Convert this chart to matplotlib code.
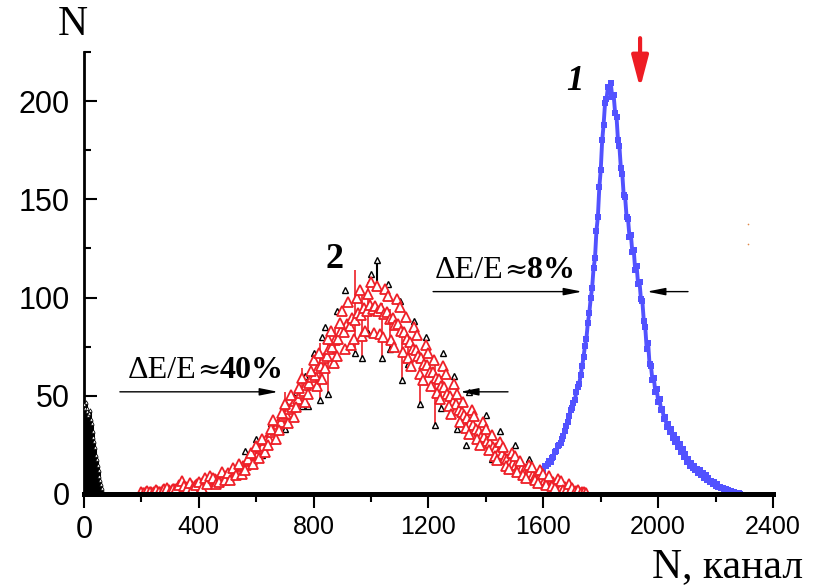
import numpy as np
import matplotlib
matplotlib.use("Agg")
import matplotlib.pyplot as plt
from matplotlib.ticker import MultipleLocator

# ---------------- data ----------------
# black spike near channel 0
spike_ch = [0, 3, 6, 9, 12, 15, 18, 21, 24, 27, 30, 33, 36, 39, 42, 45, 48, 51, 54, 57, 60, 63, 66]
spike_v = [46, 44, 47, 42, 44, 40, 41, 43, 38, 36, 32, 29, 27, 24, 20, 18, 15, 12, 9, 7, 5, 3, 1]

# spectrum 2 (red), channels 200..1750 step 10
red_ch = list(range(200, 1760, 10))
red_v = [0.8, 0.3, 1.3, 1.0, 0.6, 2.0, 1.1, 0.4, 2.5, 3.2,
         1.0, 2.7, 2.3, 4.5, 6.8, 4.1, 2.6, 5.5, 3.0, 4.6,
         6.0, 3.2, 7.9, 5.0, 9.2, 8.0, 5.2, 6.1, 11.0, 7.0,
         10.8, 6.9, 13.2, 9.5, 15.5, 10.2, 12.0, 17.9, 20.8, 15.4,
         24.5, 18.5, 28.0, 21.5, 25.0, 33.0, 37.5, 28.2, 32.5, 41.0,
         46.0, 36.0, 50.5, 39.0, 44.5, 54.0, 59.0, 47.0, 51.0, 62.5,
         68.0, 55.0, 72.0, 58.5, 64.0, 79.0, 83.0, 66.5, 70.0, 87.0,
         93.0, 74.0, 97.5, 76.0, 79.0, 100.0, 104.0, 80.5, 83.0, 102.0,
         108.0, 82.0, 106.0, 81.5, 80.0, 104.5, 101.0, 78.5, 75.0, 99.0,
         95.0, 72.5, 90.0, 69.0, 65.0, 85.0, 81.0, 61.0, 58.0, 76.0,
         72.0, 55.0, 68.0, 51.5, 48.5, 65.0, 61.0, 45.0, 40.5, 56.0,
         51.0, 36.5, 47.0, 33.5, 30.5, 43.0, 39.5, 28.0, 25.0, 36.5,
         33.0, 22.5, 30.0, 19.5, 17.5, 26.5, 24.0, 14.5, 12.5, 21.0,
         19.5, 11.0, 17.0, 9.5, 8.0, 15.0, 13.5, 7.0, 5.5, 12.0,
         10.0, 4.5, 9.0, 4.0, 3.0, 7.5, 6.5, 2.0, 1.5, 5.0,
         3.0, 0.8, 2.0, 0.5, 1.0, 0.3]

# spectrum 2 (red), in-between channels 205..1745 step 10
red_ch_b = list(range(205, 1750, 10))
red_v_b = [0.5, 0.9, 0.7, 1.2, 0.9, 1.5, 1.2, 1.8, 1.6, 2.2,
           2.0, 2.6, 2.3, 3.0, 2.7, 3.5, 3.3, 4.2, 4.0, 4.9,
           5.0, 5.9, 5.6, 6.7, 6.4, 7.5, 7.2, 8.4, 8.0, 9.2,
           9.0, 10.6, 10.5, 12.2, 11.8, 14.0, 14.8, 16.8, 17.5, 19.8,
           20.5, 23.5, 24.5, 27.5, 28.0, 31.5, 32.5, 35.5, 36.5, 39.5,
           40.5, 43.5, 44.5, 47.5, 48.5, 51.5, 52.5, 55.5, 56.5, 59.5,
           60.5, 64.0, 65.0, 69.0, 70.0, 74.0, 75.0, 78.5, 79.0, 83.0,
           82.5, 86.5, 85.5, 89.5, 88.5, 92.0, 91.0, 94.5, 93.0, 96.0,
           94.0, 95.5, 93.0, 94.5, 91.5, 92.5, 89.0, 89.5, 86.0, 86.5,
           83.0, 82.5, 79.0, 77.5, 74.0, 73.5, 70.0, 69.0, 66.0, 65.5,
           62.0, 62.0, 59.0, 58.5, 55.0, 54.5, 51.0, 50.0, 47.0, 46.0,
           43.0, 41.5, 40.0, 38.5, 36.0, 35.0, 33.0, 32.0, 30.0, 29.0,
           27.0, 26.0, 24.0, 23.5, 21.5, 20.5, 18.5, 18.0, 16.5, 16.0,
           15.0, 14.5, 13.0, 12.5, 11.0, 11.0, 9.5, 9.5, 8.0, 8.0,
           7.0, 7.0, 6.0, 6.0, 5.0, 4.8, 4.0, 3.6, 3.0, 2.6,
           2.0, 1.6, 1.2, 0.9, 0.5]

# long error bars on spectrum 2 (channel, top, bottom)
err_ch = [700, 760, 822, 850, 874, 944, 968, 990, 1038, 1066, 1107, 1129, 1170, 1222, 1245]
err_top = [52, 64, 77, 82, 85, 114, 102, 108, 97, 94, 82, 81, 64, 67, 60]
err_bot = [33, 45, 48, 51, 66, 72, 69, 82, 69, 74, 58, 66, 46, 35, 44]
blk_err_ch = [1021]
blk_err_top = [119]
blk_err_bot = [107]

# black triangles peeking out of the red band
blk_ch = [560, 600, 620, 650, 700, 740, 770, 780, 800, 830, 840, 880, 910, 1000, 1060,
          1100, 1150, 1190, 1250, 1290, 1300, 1330, 1340, 1400, 1420, 1450, 1480, 1500, 1550, 1560]
blk_v = [22, 28, 20, 36, 47, 52, 60, 45, 72, 80, 85, 93, 104, 112, 107,
         98, 88, 80, 72, 60, 33, 25, 52, 40, 18, 32, 12, 25, 18, 8]

# spectrum 1 (blue), channels 1590..2285 step 5
blue_ch = list(range(1590, 2290, 5))
blue_v = [11, 12.5, 12, 14.5, 14, 15.5, 17, 16.5, 18.5, 19,
          21.5, 22, 24.5, 25, 26, 28, 29.5, 32, 34.5, 36.5,
          39.5, 42.5, 44, 46.5, 48, 52, 54.5, 56, 60.5, 65,
          69.5, 75.5, 79, 87, 92, 99.5, 105, 115, 120, 134,
          141, 156, 165, 180, 188, 199, 201, 207, 205, 209,
          202, 203, 194, 192, 180, 177, 166, 163, 152, 151,
          141, 140, 131, 132, 123, 124, 114, 116, 107, 108,
          99, 98, 88, 85, 74, 77, 66, 65, 58, 59,
          52, 53.5, 47, 48.5, 42.5, 43.5, 38, 39, 34, 35.5,
          31.5, 33, 28.5, 30, 26.5, 28, 24, 25.5, 21.5, 23,
          19, 20.5, 16.5, 18, 14.5, 16, 13, 14.5, 12, 12.5,
          10.5, 12, 9.5, 10.5, 8, 9.5, 7, 8, 6, 6.5,
          5, 6, 4, 5, 3.5, 3.8, 2.8, 3, 2.2, 2.5,
          1.6, 1.9, 1.2, 1.4, 0.9, 1.0, 0.6, 0.7, 0.4, 0.2]

xticks = [0, 400, 800, 1200, 1600, 2000, 2400]
yticks = [0, 50, 100, 150, 200]

RED = "#ee2028"
BLUE = "#5252ff"
SERIF = "Liberation Serif"
SANS = "Liberation Sans"

# ---------------- figure ----------------
fig = plt.figure(figsize=(8.19, 5.85), dpi=100)
ax = fig.add_axes([0.10256, 0.15556, 0.84127, 0.75573])

# black spike
ax.vlines(spike_ch, 0, spike_v, color="black", lw=2.2, zorder=3)
ax.plot(spike_ch, spike_v, ls="none", marker="^", ms=2.5, mfc="white", mec="black", mew=0.5, zorder=3)

# blue spectrum 1
ax.plot(blue_ch, blue_v, "-s", color=BLUE, ms=4.8, mew=0, lw=2.8, zorder=2)

# black triangles under red
ax.plot(blk_ch, blk_v, ls="none", marker="^", ms=4.5, mfc="white", mec="black", mew=1.0, zorder=3)
ax.vlines(blk_err_ch, blk_err_bot, blk_err_top, color="black", lw=1.5, zorder=3)
ax.plot(blk_err_ch, blk_err_top, ls="none", marker="^", ms=5, mfc="white", mec="black", mew=1.0, zorder=5)

# red spectrum 2
ax.vlines(err_ch, err_bot, err_top, color=RED, lw=1.2, zorder=4)
ax.plot(err_ch, err_bot, ls="none", marker="^", ms=4.5, mfc="white", mec="black", mew=1.0, zorder=4)
ax.plot(red_ch_b, red_v_b, ls="none", marker="^", ms=6.5, mfc="white", mec=RED, mew=1.3, zorder=4)
ax.plot(red_ch, red_v, ls="none", marker="^", ms=6.5, mfc="white", mec=RED, mew=1.3, zorder=4)

# tiny orange specks
ax.plot([2313, 2313], [137.4, 127.2], ls="none", marker="o", ms=1.2, color="#e08a4a", mew=0, clip_on=False)

# axes styling
ax.set_xlim(0, 2400)
ax.set_ylim(0, 225)
ax.spines["top"].set_visible(False)
ax.spines["right"].set_visible(False)
ax.spines["left"].set_linewidth(2.0)
ax.spines["bottom"].set_linewidth(3.6)
ax.spines["bottom"].set_zorder(6)
ax.set_xticks(xticks)
ax.set_yticks(yticks)
ax.xaxis.set_minor_locator(MultipleLocator(200))
ax.yaxis.set_minor_locator(MultipleLocator(25))
ax.tick_params(axis="x", which="major", direction="out", length=10, width=1.5, pad=5)
ax.tick_params(axis="x", which="minor", direction="out", length=6, width=1.5)
ax.tick_params(axis="y", which="major", direction="in", length=9, width=1.5, pad=10)
ax.tick_params(axis="y", which="minor", direction="in", length=5, width=1.5)
ax.set_xticklabels([str(t) for t in xticks], fontfamily=SANS, fontsize=18)
ax.set_yticklabels([str(t) for t in yticks], fontfamily=SANS, fontsize=22)
ax.get_xticklabels()[0].set_fontsize(22)

# axis labels
fig.text(73 / 819, 1 - 25 / 585, "N", fontfamily=SERIF, fontsize=30, ha="center", va="center")
fig.text(652 / 819, 1 - 577 / 585, "N, канал", fontfamily=SERIF, fontsize=30, ha="left", va="baseline")

# peak numbers
ax.text(1711, 210, "1", fontfamily=SERIF, fontsize=25, fontweight="bold", fontstyle="italic",
        ha="center", va="center")
ax.text(874, 119.5, "2", fontfamily=SERIF, fontsize=26, fontweight="bold", ha="center", va="center")


def chain(x, y, parts):
    renderer = fig.canvas.get_renderer()
    for s, kw in parts:
        t = ax.text(x, y, s, ha="left", va="baseline", **kw)
        bb = t.get_window_extent(renderer)
        x = ax.transData.inverted().transform((bb.x1, 0))[0]


# resolution labels
chain(153, 59, [("ΔE/E", dict(fontfamily=SERIF, fontsize=23)),
                ("≈", dict(fontfamily="DejaVu Serif", fontsize=20)),
                ("40%", dict(fontfamily=SERIF, fontsize=23, fontweight="bold"))])
chain(1223, 110, [("ΔE/E", dict(fontfamily=SERIF, fontsize=23)),
                  ("≈", dict(fontfamily="DejaVu Serif", fontsize=20)),
                  ("8%", dict(fontfamily=SERIF, fontsize=23, fontweight="bold"))])

# half-width arrows
arr = dict(arrowstyle="-|>,head_length=1.1,head_width=0.22", color="black", lw=1.0,
           shrinkA=0, shrinkB=0, mutation_scale=10)
ax.annotate("", xy=(676, 52), xytext=(125, 52), arrowprops=arr)
ax.annotate("", xy=(1310, 52), xytext=(1477, 52), arrowprops=arr)
ax.annotate("", xy=(1735, 103), xytext=(1216, 103), arrowprops=arr)
ax.annotate("", xy=(1961, 103), xytext=(2104, 103), arrowprops=arr)

# red marker arrow
ax.annotate("", xy=(1937, 206.5), xytext=(1937, 232),
            arrowprops=dict(arrowstyle="-|>,head_length=1.9,head_width=0.5", color="#ee1c24",
                            lw=3, shrinkA=0, shrinkB=0, mutation_scale=10),
            annotation_clip=False)

fig.savefig("out.png", dpi=100)
